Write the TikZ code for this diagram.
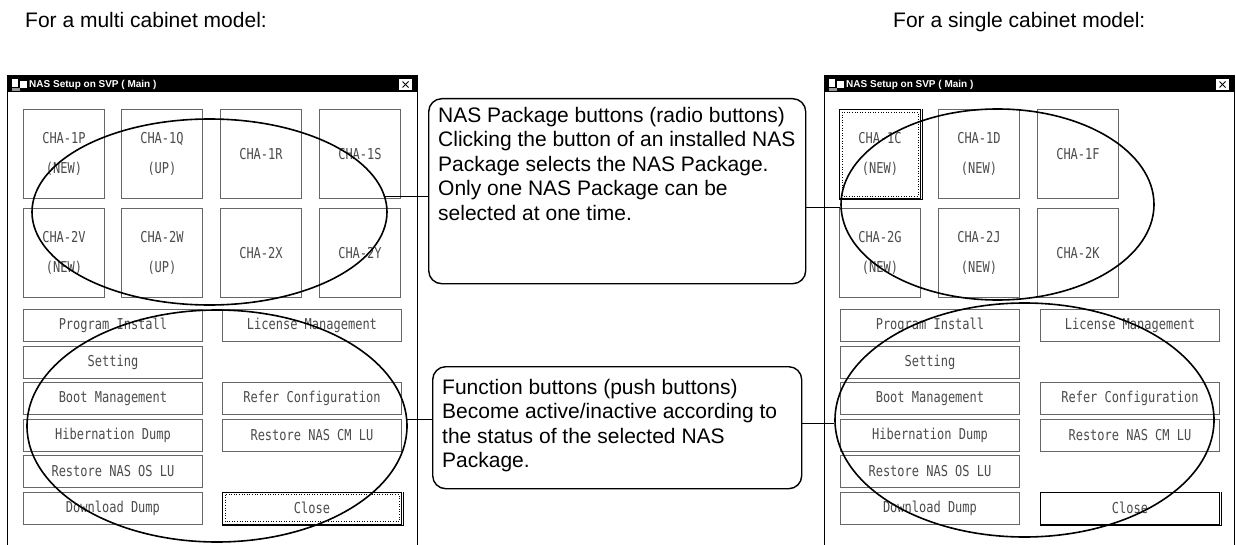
\documentclass[tikz,border=0pt]{standalone}
\usepackage{fontspec}
\setmainfont{Liberation Sans}
\newfontfamily\btnfont[FakeStretch=0.8]{DejaVu Sans Mono}
\usetikzlibrary{shapes.geometric}
\tikzset{
  win/.style={draw=black, line width=1pt},
  chabtn/.style={draw=black!60, line width=0.9pt, fill=white, anchor=north west,
    minimum width=81pt, minimum height=89pt, inner sep=0pt, align=center, text=black!70,
    font=\btnfont\fontsize{15pt}{30pt}\selectfont},
  fnbtn/.style={chabtn, minimum width=179pt, minimum height=32pt,
    font=\btnfont\fontsize{15pt}{18pt}\selectfont},
  selbtn/.style={draw=black, line width=1pt},
  oval/.style={ellipse, draw=black, line width=1.6pt, inner sep=0pt},
  callout/.style={draw=black, line width=1.4pt, rounded corners=13pt, anchor=north west, inner sep=0pt},
  ctext/.style={anchor=north west, inner sep=0pt, align=left, font=\fontsize{21pt}{24.5pt}\selectfont},
  link/.style={draw=black, line width=1.1pt},
  hdr/.style={anchor=base west, inner sep=0pt, font=\fontsize{21pt}{24pt}\selectfont},
  wtitle/.style={anchor=west, inner sep=0pt, text=white, font=\bfseries\fontsize{10pt}{12pt}\selectfont},
  xbox/.style={fill=white, minimum width=13pt, minimum height=11pt, inner sep=0pt},
  focus/.style={draw=black, line width=0.6pt, dotted}
}
\begin{document}
\begin{tikzpicture}[x=1pt,y=-1pt]
\useasboundingbox (0,0) rectangle (1236,545);
\fill[white] (0,0) rectangle (1236,545);

\node[hdr] (h1) at (25,28) {For a multi cabinet model:};
\node[hdr] (h2) at (893,28) {For a single cabinet model:};

% ---------------- left window ----------------
\draw[win] (7,76) rectangle (417,560);
\fill[black] (7,76) rectangle (417,92);
\fill[white] (12,79) rectangle (18,87);
\fill[white] (20,81) rectangle (27,88);
\fill[black!40] (12,88) rectangle (20,91);
\node[wtitle] (Lt) at (29,84.5) {NAS Setup on SVP ( Main )};
\node[xbox] (Lx) at (405.5,84.5) {};
\draw[line width=1pt] ([shift={(-3,-3)}]Lx.center) -- ([shift={(3,3)}]Lx.center);
\draw[line width=1pt] ([shift={(-3,3)}]Lx.center) -- ([shift={(3,-3)}]Lx.center);

\node[chabtn] (L1P) at (23,109) {CHA-1P\\(NEW)};
\node[chabtn] (L1Q) at (121,109) {CHA-1Q\\(UP)};
\node[chabtn] (L1R) at (220,109) {CHA-1R};
\node[chabtn] (L1S) at (319,109) {CHA-1S};
\node[chabtn] (L2V) at (23,208) {CHA-2V\\(NEW)};
\node[chabtn] (L2W) at (121,208) {CHA-2W\\(UP)};
\node[chabtn] (L2X) at (220,208) {CHA-2X};
\node[chabtn] (L2Y) at (319,208) {CHA-2Y};

\node[fnbtn] (Lpi) at (23,309) {Program Install};
\node[fnbtn] (Llm) at (222,309) {License Management};
\node[fnbtn] (Lse) at (23,345.5) {Setting};
\node[fnbtn] (Lbm) at (23,382) {Boot Management};
\node[fnbtn] (Lrc) at (222,382) {Refer Configuration};
\node[fnbtn] (Lhd) at (23,418.5) {Hibernation Dump};
\node[fnbtn] (Lcm) at (222,418.5) {Restore NAS CM LU};
\node[fnbtn] (Los) at (23,455) {Restore NAS OS LU};
\node[fnbtn] (Ldd) at (23,491.5) {Download Dump};
\node[fnbtn, selbtn] (Lcl) at (222,491.5) {Close};
\draw[line width=1pt] ([shift={(1,0)}]Lcl.north east) -- ([shift={(1,1)}]Lcl.south east) -- ([shift={(0,1)}]Lcl.south west);
\draw[focus] ([shift={(3,3)}]Lcl.north west) rectangle ([shift={(-3,-3)}]Lcl.south east);

% ---------------- right window ----------------
\begin{scope}[shift={(817,0)}]
\draw[win] (7,76) rectangle (417,560);
\fill[black] (7,76) rectangle (417,92);
\fill[white] (12,79) rectangle (18,87);
\fill[white] (20,81) rectangle (27,88);
\fill[black!40] (12,88) rectangle (20,91);
\node[wtitle] (Rt) at (29,84.5) {NAS Setup on SVP ( Main )};
\node[xbox] (Rx) at (405.5,84.5) {};
\draw[line width=1pt] ([shift={(-3,-3)}]Rx.center) -- ([shift={(3,3)}]Rx.center);
\draw[line width=1pt] ([shift={(-3,3)}]Rx.center) -- ([shift={(3,-3)}]Rx.center);

\node[chabtn, selbtn] (R1C) at (22,109) {CHA-1C\\(NEW)};
\draw[line width=1pt] ([shift={(1,0)}]R1C.north east) -- ([shift={(1,1)}]R1C.south east) -- ([shift={(0,1)}]R1C.south west);
\draw[focus] ([shift={(3,3)}]R1C.north west) rectangle ([shift={(-3,-3)}]R1C.south east);
\node[chabtn] (R1D) at (121,109) {CHA-1D\\(NEW)};
\node[chabtn] (R1F) at (220,109) {CHA-1F};
\node[chabtn] (R2G) at (22,208) {CHA-2G\\(NEW)};
\node[chabtn] (R2J) at (121,208) {CHA-2J\\(NEW)};
\node[chabtn] (R2K) at (220,208) {CHA-2K};

\node[fnbtn] (Rpi) at (23,309) {Program Install};
\node[fnbtn] (Rlm) at (223,309) {License Management};
\node[fnbtn] (Rse) at (23,345.5) {Setting};
\node[fnbtn] (Rbm) at (23,382) {Boot Management};
\node[fnbtn] (Rrc) at (223,382) {Refer Configuration};
\node[fnbtn] (Rhd) at (23,418.5) {Hibernation Dump};
\node[fnbtn] (Rcm) at (223,418.5) {Restore NAS CM LU};
\node[fnbtn] (Ros) at (23,455) {Restore NAS OS LU};
\node[fnbtn] (Rdd) at (23,491.5) {Download Dump};
\node[fnbtn, selbtn] (Rcl) at (223,491.5) {Close};
\draw[line width=1pt] ([shift={(1,0)}]Rcl.north east) -- ([shift={(1,1)}]Rcl.south east) -- ([shift={(0,1)}]Rcl.south west);
\end{scope}

% ---------------- callouts ----------------
\node[callout, minimum width=377pt, minimum height=185pt] (c1) at (428,98) {};
\node[ctext] (t1) at (438,106.7) {NAS Package buttons (radio buttons)\\Clicking the button of an installed NAS\\Package selects the NAS Package.\\Only one NAS Package can be\\selected at one time.};
\node[callout, minimum width=369pt, minimum height=122pt] (c2) at (432,366) {};
\node[ctext] (t2) at (442,378.7) {Function buttons (push buttons)\\Become active/inactive according to\\the status of the selected NAS\\Package.};

% ---------------- ovals ----------------
\node[oval, minimum width=355pt, minimum height=186pt] (e1) at (209.5,212) {};
\node[oval, minimum width=380pt, minimum height=232pt] (e2) at (217,426) {};
\node[oval, minimum width=313pt, minimum height=191pt] (e3) at (997.5,204.5) {};
\node[oval, minimum width=379pt, minimum height=234pt] (e4) at (1024.5,420) {};

\draw[link] (e1.5) -- (e1.5 -| c1.west);
\draw[link] (c1.east |- e3.181) -- (e3.181);
\draw[link] (e2.2) -- (e2.2 -| c2.west);
\draw[link] (c2.east |- e4.181) -- (e4.181);
\end{tikzpicture}
\end{document}
